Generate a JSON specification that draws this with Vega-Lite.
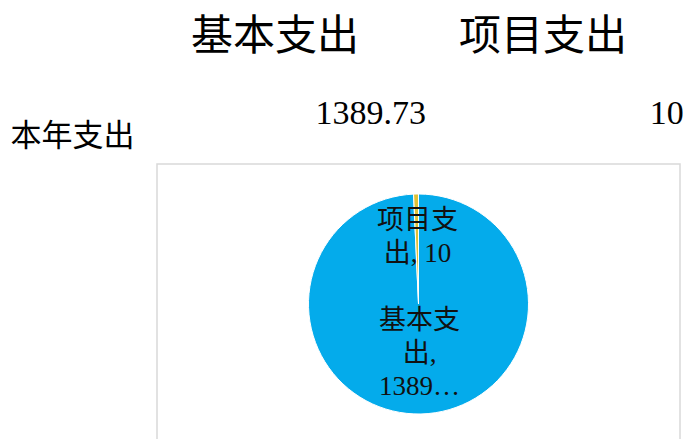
{
  "$schema": "https://vega.github.io/schema/vega-lite/v6.json",
  "background": "white",
  "padding": {"left": 10, "top": 15, "right": 0, "bottom": 0},
  "spacing": 10,
  "config": {
    "view": {"stroke": null},
    "font": "Liberation Serif, Noto Sans CJK SC"
  },
  "datasets": {
    "spend": [
      {"行": "本年支出", "项目": "基本支出", "金额": 1389.73, "标签": "基本支\n出,\n1389…"},
      {"行": "本年支出", "项目": "项目支出", "金额": 10, "标签": "项目支\n出, 10"}
    ]
  },
  "vconcat": [
    {
      "data": {"name": "spend"},
      "width": 526,
      "height": 80,
      "mark": {"type": "text", "align": "right", "baseline": "middle", "dx": 6, "dy": 1, "fontSize": 34, "color": "black", "font": "Liberation Serif, Noto Sans CJK SC"},
      "encoding": {
        "x": {
          "field": "项目", "type": "nominal", "sort": null, "bandPosition": 1,
          "scale": {"type": "band", "paddingInner": 0, "paddingOuter": 0.02},
          "axis": {"orient": "top", "title": null, "domain": false, "ticks": false, "labelAngle": 0,
                   "labelFontSize": 42, "labelPadding": 15,
                   "labelOffset": {"condition": {"test": "datum.value === '基本支出'", "value": -16}, "value": -6},
                   "labelColor": "black",
                   "labelFont": "Noto Sans CJK SC", "labelBaseline": "bottom"}
        },
        "y": {
          "field": "行", "type": "nominal",
          "axis": {"title": null, "domain": false, "ticks": false, "labelFontSize": 31, "labelPadding": 23,
                   "labelOffset": 23, "labelColor": "black", "labelFont": "Noto Sans CJK SC"}
        },
        "text": {"field": "金额", "type": "quantitative", "format": ".2~f"}
      }
    },
    {
      "data": {"name": "spend"},
      "width": 523,
      "height": 280,
      "view": {"stroke": "#D9D9D9", "strokeWidth": 1.5},
      "layer": [
        {
          "mark": {"type": "arc", "outerRadius": 110, "stroke": "white", "strokeWidth": 1},
          "encoding": {
            "theta": {"field": "金额", "type": "quantitative", "stack": true},
            "color": {"field": "项目", "type": "nominal",
                      "scale": {"domain": ["基本支出", "项目支出"], "range": ["#04ABEB", "#DFC136"]},
                      "legend": null}
          }
        },
        {
          "mark": {"type": "text", "radius": 50, "dy": -33, "lineBreak": "\n", "fontSize": 27, "lineHeight": 33,
                   "align": "center", "baseline": "middle", "color": "#111111", "font": "Liberation Serif, Noto Sans CJK SC"},
          "encoding": {
            "theta": {"field": "金额", "type": "quantitative", "stack": true},
            "text": {"field": "标签", "type": "nominal"}
          }
        }
      ]
    }
  ]
}
